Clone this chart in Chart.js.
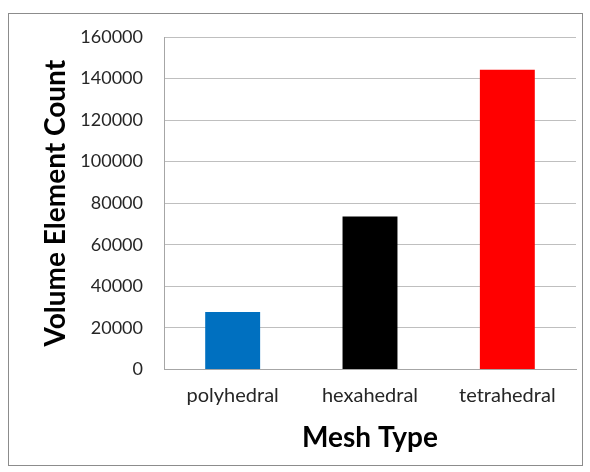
<!DOCTYPE html>
<html>
<head>
<meta charset="utf-8">
<script src="https://cdn.jsdelivr.net/npm/chart.js@4"></script>
<style>
  body { margin: 0; background: #fff; }
  #box { position: absolute; left: 8px; top: 13px; width: 573px; height: 451px; border: 1px solid #8c8c8c; }
</style>
</head>
<body>
<div id="box"><canvas id="chart" width="573" height="451"></canvas></div>
<script>
const meshTypes = ['polyhedral', 'hexahedral', 'tetrahedral'];
const elementCounts = [27600, 73600, 144200];
const barColors = ['#0070C0', '#000000', '#FF0000'];
const yTicks = [0, 20000, 40000, 60000, 80000, 100000, 120000, 140000, 160000];

const font = "Lato, 'Open Sans', sans-serif";

new Chart(document.getElementById('chart'), {
  type: 'bar',
  data: {
    labels: meshTypes,
    datasets: [{
      data: elementCounts,
      backgroundColor: barColors,
      borderWidth: 0,
      barPercentage: 0.4,
      categoryPercentage: 1
    }]
  },
  options: {
    responsive: false,
    animation: false,
    plugins: { legend: { display: false }, tooltip: { enabled: false } },
    layout: { padding: { left: 30, right: 6, top: 23, bottom: 10 } },
    scales: {
      x: {
        grid: { display: false, drawTicks: false },
        border: { color: '#a6a6a6', width: 1 },
        ticks: { color: '#262626', padding: 14, font: { family: font, size: 20 } },
        title: {
          display: true, text: 'Mesh Type', color: '#000',
          padding: { top: 0, bottom: 0 },
          font: { family: font, size: 28, weight: 'bold' }
        }
      },
      y: {
        min: 0, max: 160000,
        afterBuildTicks: s => { s.ticks = yTicks.map(v => ({ value: v })); },
        afterFit: s => { s.width = 125; s.paddingTop = 0; s.paddingBottom = 0; },
        grid: { color: '#bfbfbf', drawTicks: false },
        border: { color: '#a6a6a6', width: 1 },
        ticks: {
          color: '#262626', padding: 21, font: { family: font, size: 18 },
          callback: v => String(v)
        },
        title: {
          display: true, text: 'Volume Element Count', color: '#000',
          padding: 0,
          font: { family: font, size: 28, weight: 'bold' }
        }
      }
    }
  }
});
</script>
</body>
</html>
